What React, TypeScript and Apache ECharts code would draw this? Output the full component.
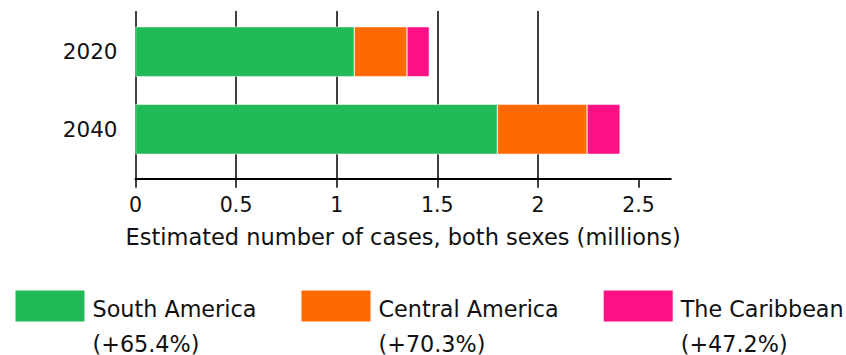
import React, { useEffect, useRef } from 'react';
import * as echarts from 'echarts';

const years = ['2020', '2040'];
const southAmerica = [1.087, 1.798];
const centralAmerica = [0.262, 0.446];
const caribbean = [0.111, 0.164];
const regionNames = ['South America', 'Central America', 'The Caribbean'];
const changeLabels = ['(+65.4%)', '(+70.3%)', '(+47.2%)'];
const tickValues = [0, 0.5, 1, 1.5, 2, 2.5];
const axisTitle = 'Estimated number of cases, both sexes (millions)';

const colors = ['#21BA58', '#FF6A00', '#FF1186'];
const FONT = 'DejaVu Sans';

export default function App() {
  const ref = useRef<HTMLDivElement>(null);
  useEffect(() => {
    if (!ref.current) return;
    const chart = echarts.init(ref.current, undefined, { renderer: 'svg' });
    const seriesData = [southAmerica, centralAmerica, caribbean];
    const legendLefts = [13.5, 299.5, 601.7];
    const option: any = {
      animation: false,
      backgroundColor: '#fff',
      textStyle: { fontFamily: FONT },
      grid: [
        { left: 135.5, right: 175.2, top: 11, height: 167.7 },
        { left: 135.5, right: 175.2, top: 12.9, height: 155.2 },
      ],
      xAxis: [
        {
          gridIndex: 0,
          type: 'value',
          min: 0,
          max: 2.66,
          axisLine: { show: true, lineStyle: { color: '#000', width: 2 } },
          axisTick: { show: true, customValues: tickValues, length: 9, lineStyle: { color: '#000', width: 1.5 } },
          axisLabel: {
            customValues: tickValues,
            formatter: (v: number) => String(v),
            fontSize: 20.5,
            color: '#111',
            margin: 16,
            fontFamily: FONT,
          },
          splitLine: { show: true, showMaxLine: false, lineStyle: { color: '#000', width: 1.5 } },
          name: axisTitle,
          nameLocation: 'middle',
          nameGap: 47,
          nameTextStyle: { fontSize: 22.5, color: '#111', fontFamily: FONT },
        },
        { gridIndex: 1, type: 'value', min: 0, max: 2.66, show: false },
      ],
      yAxis: [
        { gridIndex: 0, type: 'category', data: years, show: false },
        {
          gridIndex: 1,
          type: 'category',
          data: years,
          inverse: true,
          axisLine: { show: false },
          axisTick: { show: false },
          axisLabel: { fontSize: 21.5, color: '#111', margin: 18, fontFamily: FONT },
        },
      ],
      legend: regionNames.map((name, i) => ({
        data: [name],
        left: legendLefts[i],
        top: 260,
        padding: 0,
        icon: 'rect',
        itemWidth: 71,
        itemHeight: 33,
        selectedMode: false,
        formatter: (n: string) => `{s| }\n{a|${n}}\n{b|${changeLabels[i]}}`,
        textStyle: {
          fontSize: 22.3,
          color: '#111',
          fontFamily: FONT,
          padding: [0, 0, 0, 2],
          rich: {
            s: { lineHeight: 40, fontSize: 22.3, fontFamily: FONT },
            a: { lineHeight: 35, fontSize: 22.3, color: '#111', fontFamily: FONT },
            b: { lineHeight: 35, fontSize: 22.3, color: '#111', fontFamily: FONT },
          },
        },
      })),
      series: regionNames.map((name, i) => ({
        name,
        type: 'bar',
        stack: 'total',
        xAxisIndex: 1,
        yAxisIndex: 1,
        barWidth: 50,
        itemStyle: { color: colors[i], borderColor: '#fff', borderWidth: 0.5 },
        data: seriesData[i],
      })),
    };
    chart.setOption(option);
    return () => chart.dispose();
  }, []);
  return (
    <div
      ref={ref}
      style={{ position: 'fixed', left: 0, top: 0, width: 846, height: 355, background: '#fff' }}
    />
  );
}
